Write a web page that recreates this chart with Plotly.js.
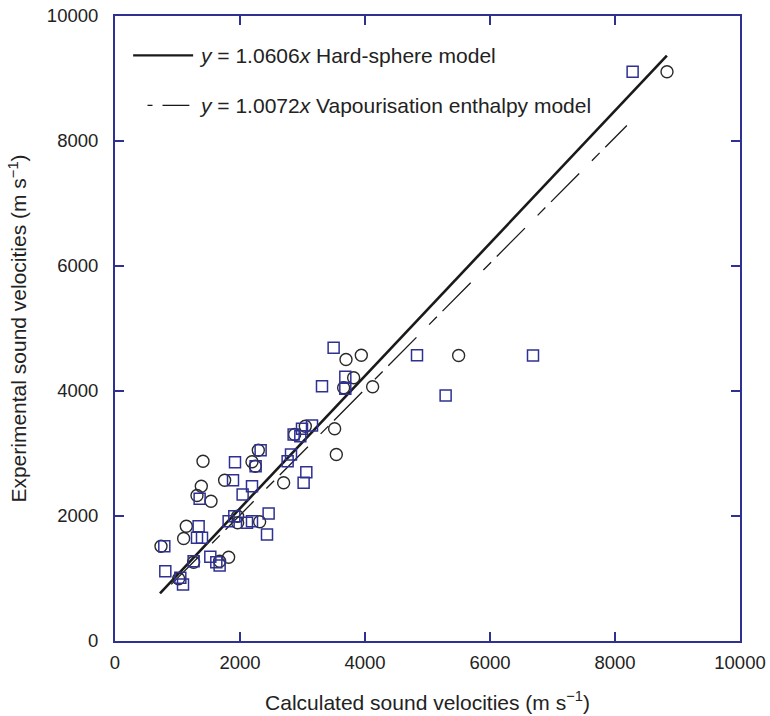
<!DOCTYPE html>
<html>
<head>
<meta charset="utf-8">
<script src="https://cdn.plot.ly/plotly-3.0.1.min.js"></script>
<style>html,body{margin:0;padding:0;background:#fff;}#chart{width:770px;height:716px;}</style>
</head>
<body>
<div id="chart"></div>
<script>
// Experimental vs calculated sound velocities (m s^-1)
var circleX = [1408,1381,1312,1536,1754,1141,1098,736,1258,1018,1818,1674,1962,1962,2192,2293,2245,2698,2314,2874,3045,3696,3941,3818,3658,3514,3541,4122,5498,8832];
var circleY = [2877,2477,2328,2237,2573,1837,1640,1517,1261,995,1341,1277,1997,1891,2867,3053,2797,2531,1907,3304,3437,4504,4573,4211,4051,3395,2984,4067,4568,9107];

var squareX = [1920,2330,2250,1888,2192,2042,1354,1338,1312,1392,789,805,1258,1525,1621,1674,1045,1088,2458,2432,1909,1818,2112,2192,3061,3018,2762,2816,2858,2992,2965,3152,3498,3685,3312,3685,4832,5290,6688,8282];
var squareY = [2861,3053,2797,2573,2477,2344,2275,1837,1651,1651,1517,1117,1277,1347,1261,1208,1011,904,2040,1704,1997,1917,1891,1917,2701,2531,2877,2984,3304,3395,3277,3448,4691,4227,4077,4035,4573,3928,4568,9107];

// Fit lines y = k x
var hardSphereSlope = 1.0606;
var hardSphereX = [720, 8830];
var vapourSlope = 1.0072;
var vapourX = [900, 8190];

var tickVals = [0, 2000, 4000, 6000, 8000, 10000];
var tickText = ['0', '2000', '4000', '6000', '8000', '10000'];

var legendLabels = ['<i>y</i> = 1.0606<i>x</i> Hard-sphere model', '<i>y</i> = 1.0072<i>x</i> Vapourisation enthalpy model'];
var xTitle = 'Calculated sound velocities (m s<sup>\u22121</sup>)';
var yTitle = 'Experimental sound velocities (m s<sup>\u22121</sup>)';

var hardSphereY = hardSphereX.map(function(v){ return hardSphereSlope * v; });
var vapourY = vapourX.map(function(v){ return vapourSlope * v; });

var axisBlue = '#2e3192';
var font = 'Liberation Sans, Arial, Helvetica, sans-serif';

var traces = [
  {x: hardSphereX, y: hardSphereY, mode: 'lines', line: {color: '#1a1a1a', width: 2.6}, hoverinfo: 'skip'},
  {x: vapourX, y: vapourY, mode: 'lines', line: {color: '#1a1a1a', width: 1.3, dash: '40px,18px,11px,8px'}, hoverinfo: 'skip'},
  {x: circleX, y: circleY, mode: 'markers', marker: {symbol: 'circle-open', size: 12, color: '#2a2a2a', line: {width: 1.4, color: '#2a2a2a'}}},
  {x: squareX, y: squareY, mode: 'markers', marker: {symbol: 'square-open', size: 11, color: axisBlue, line: {width: 1.5, color: axisBlue}}}
];

var axisCommon = {
  range: [0, 10000],
  tickvals: tickVals,
  ticktext: tickText,
  ticks: 'inside',
  ticklen: 9,
  tickwidth: 1.2,
  tickcolor: axisBlue,
  showline: true,
  linecolor: axisBlue,
  linewidth: 2,
  mirror: 'ticks',
  showgrid: false,
  zeroline: false,
  tickfont: {family: font, size: 18.5, color: '#222'},
  fixedrange: true
};

var layout = {
  width: 770,
  height: 716,
  margin: {l: 115, r: 30, t: 16, b: 75},
  paper_bgcolor: '#ffffff',
  plot_bgcolor: '#ffffff',
  showlegend: false,
  font: {family: font, color: '#222'},
  xaxis: Object.assign({}, axisCommon, {
    ticklabelstandoff: 4,
    title: {text: xTitle, font: {family: font, size: 21, color: '#222'}, standoff: 23}
  }),
  yaxis: Object.assign({}, axisCommon, {
    ticklabelstandoff: 11,
    title: {text: yTitle, font: {family: font, size: 21, color: '#222'}, standoff: 14}
  }),
  shapes: [
    {type: 'line', xref: 'paper', yref: 'paper', x0: 0.029, x1: 0.125, y0: 0.937, y1: 0.937, line: {color: '#1a1a1a', width: 2.4}},
    {type: 'line', xref: 'paper', yref: 'paper', x0: 0.052, x1: 0.060, y0: 0.857, y1: 0.857, line: {color: '#1a1a1a', width: 1.3}},
    {type: 'line', xref: 'paper', yref: 'paper', x0: 0.076, x1: 0.119, y0: 0.857, y1: 0.857, line: {color: '#1a1a1a', width: 1.3}}
  ],
  annotations: [
    {xref: 'paper', yref: 'paper', x: 0.131, y: 0.937, xanchor: 'left', yanchor: 'middle', showarrow: false, text: legendLabels[0], font: {family: font, size: 21, color: '#222'}},
    {xref: 'paper', yref: 'paper', x: 0.131, y: 0.857, xanchor: 'left', yanchor: 'middle', showarrow: false, text: legendLabels[1], font: {family: font, size: 21, color: '#222'}}
  ]
};

Plotly.newPlot('chart', traces, layout, {displayModeBar: false, staticPlot: true});
</script>
</body>
</html>
